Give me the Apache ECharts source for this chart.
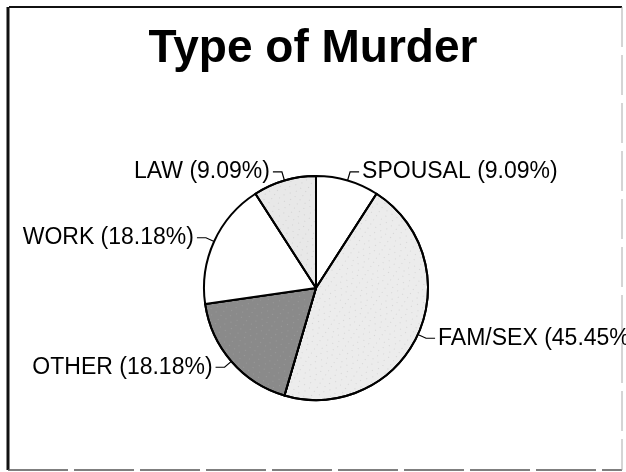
<!DOCTYPE html>
<html>
<head>
<meta charset="utf-8">
<style>
  html, body { margin: 0; padding: 0; background: #fff; }
  #main { width: 626px; height: 472px; }
</style>
<script src="https://cdn.jsdelivr.net/npm/echarts@6/dist/echarts.min.js"></script>
</head>
<body>
<div id="main"></div>
<script>
// categories, clockwise from 12 o'clock
var categories = ['SPOUSAL', 'FAM/SEX', 'OTHER', 'WORK', 'LAW'];
var counts = [1, 5, 2, 2, 1];
var percents = ['9.09%', '45.45%', '18.18%', '18.18%', '9.09%'];
var fills = ['#ffffff', '#ececec', '#8a8a8a', '#ffffff', '#e8e8e8'];

var chart = echarts.init(document.getElementById('main'));

// stipple texture
function dots(color) {
    return {
        symbol: 'rect',
        symbolSize: 0.5,
        color: color,
        dashArrayX: [[1, 5], [1, 7]],
        dashArrayY: [1, 4],
        rotation: 0.6
    };
}

var pieData = categories.map(function (name, i) {
    var item = { name: name, value: counts[i], itemStyle: { color: fills[i] } };
    if (name === 'FAM/SEX' || name === 'LAW') item.itemStyle.decal = dots('rgba(0,0,0,0.4)');
    if (name === 'OTHER') item.itemStyle.decal = dots('rgba(255,255,255,0.5)');
    return item;
});

var option = {
    backgroundColor: '#fff',
    animation: false,
    title: {
        text: 'Type of Murder',
        left: 'center',
        top: 21,
        textStyle: {
            fontFamily: 'Liberation Sans',
            fontWeight: 'bold',
            fontSize: 46,
            color: '#000'
        }
    },
    graphic: [
        { type: 'line', shape: { x1: 9, y1: 7, x2: 622, y2: 7 }, style: { stroke: '#111', lineWidth: 2 } },
        { type: 'line', shape: { x1: 8, y1: 7, x2: 8, y2: 470 }, style: { stroke: '#111', lineWidth: 3 } },
        { type: 'line', shape: { x1: 8, y1: 470, x2: 622, y2: 470 }, style: { stroke: '#555', lineWidth: 1.5, lineDash: [60, 6] } },
        { type: 'line', shape: { x1: 622, y1: 7, x2: 622, y2: 470 }, style: { stroke: '#aaa', lineWidth: 1, lineDash: [40, 8] } }
    ],
    series: [{
        type: 'pie',
        center: [316, 288],
        radius: 112,
        startAngle: 90,
        clockwise: true,
        avoidLabelOverlap: false,
        itemStyle: {
            borderColor: '#000',
            borderWidth: 2
        },
        label: {
            show: true,
            position: 'outside',
            formatter: function (p) {
                return p.name + ' (' + percents[p.dataIndex] + ')';
            },
            fontFamily: 'Liberation Sans',
            fontSize: 23,
            color: '#000',
            width: 260,
            overflow: 'none',
            distanceToLabelLine: 3
        },
        labelLine: {
            show: true,
            length: 9,
            length2: 9,
            lineStyle: { color: '#000', width: 1.2 }
        },
        emphasis: { disabled: true },
        data: pieData
    }]
};

chart.setOption(option);
</script>
</body>
</html>
